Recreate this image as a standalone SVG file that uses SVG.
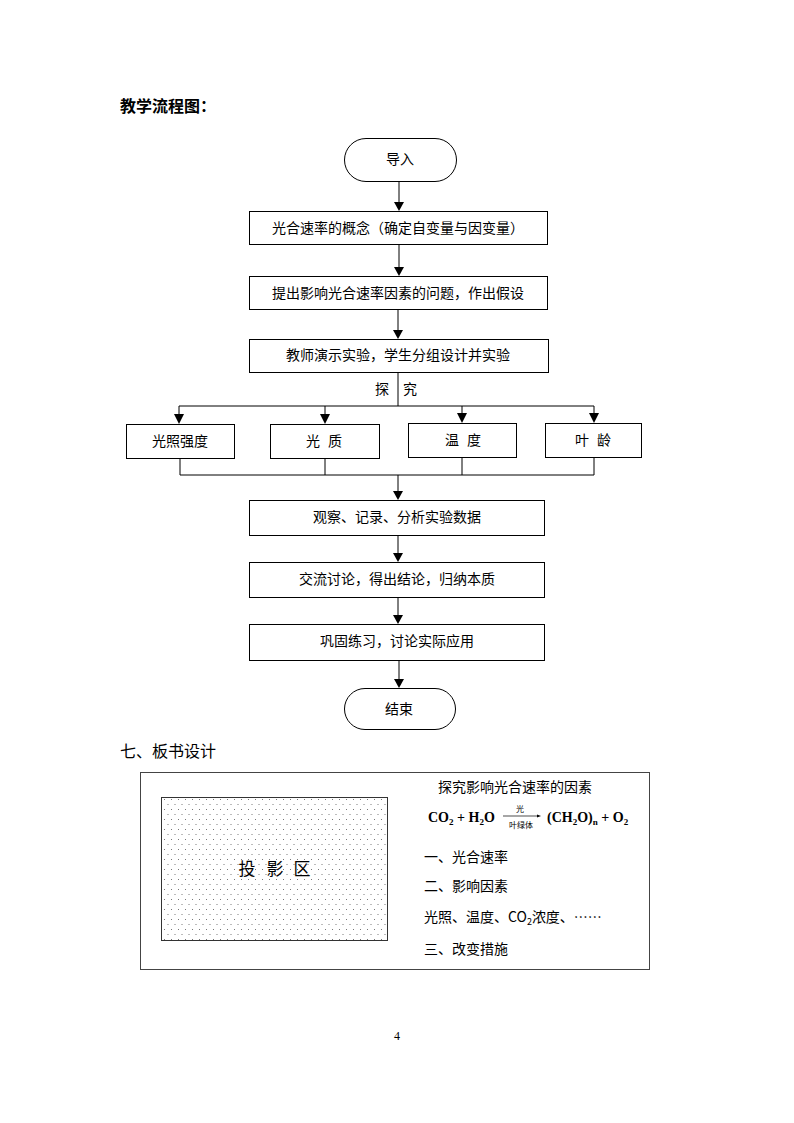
<svg xmlns="http://www.w3.org/2000/svg" width="794" height="1123" viewBox="0 0 794 1123">
<defs>
<style>
.t{font-family:"Noto Sans CJK SC","Liberation Sans",sans-serif;font-size:14px;fill:#000;}
.b{fill:#fff;stroke:#000;stroke-width:1;}
.c{fill:none;stroke:#000;stroke-width:1;}
.eq{font-family:"Liberation Serif","Times New Roman",serif;font-weight:bold;font-size:14px;fill:#000;}
</style>
<pattern id="dots" patternUnits="userSpaceOnUse" width="7" height="10" x="162" y="797">
<rect x="2" y="2" width="1" height="1" fill="#777"/>
<rect x="5.5" y="7" width="1" height="1" fill="#777"/>
</pattern>
</defs>
<rect width="794" height="1123" fill="#fff"/>
<text x="120" y="112" style="font-family:'Noto Sans CJK SC',sans-serif;font-size:16px;font-weight:bold;">教学流程图：</text>

<g id="connectors">
<line class="c" x1="399" y1="181" x2="399" y2="203"/>
<path d="M394,202 L404,202 L399,211 Z"/>
<line class="c" x1="399" y1="245" x2="399" y2="268"/>
<path d="M394,267 L404,267 L399,276 Z"/>
<line class="c" x1="398" y1="309" x2="398" y2="331"/>
<path d="M393,330 L403,330 L398,339 Z"/>
<line class="c" x1="398" y1="372" x2="398" y2="406"/>
<polyline class="c" points="179,415 179,406 594,406 594,415"/>
<line class="c" x1="325" y1="406" x2="325" y2="415"/>
<line class="c" x1="462" y1="406" x2="462" y2="415"/>
<path d="M174,414 L184,414 L179,424 Z"/>
<path d="M320,414 L330,414 L325,424 Z"/>
<path d="M457,413 L467,413 L462,423 Z"/>
<path d="M589,413 L599,413 L594,423 Z"/>
<polyline class="c" points="180,458 180,475 594,475 594,457"/>
<line class="c" x1="325" y1="458" x2="325" y2="475"/>
<line class="c" x1="462" y1="457" x2="462" y2="475"/>
<line class="c" x1="398" y1="475" x2="398" y2="492"/>
<path d="M393,491 L403,491 L398,500 Z"/>
<line class="c" x1="398" y1="535" x2="398" y2="554"/>
<path d="M393,553 L403,553 L398,562 Z"/>
<line class="c" x1="398" y1="597" x2="398" y2="616"/>
<path d="M393,615 L403,615 L398,624 Z"/>
<line class="c" x1="399" y1="660" x2="399" y2="680"/>
<path d="M394,679 L404,679 L399,688 Z"/>
</g>
<text class="t" x="375" y="394">探</text>
<text class="t" x="403" y="394">究</text>

<g id="start"><rect class="b" x="344.5" y="138.5" width="112" height="43" rx="21.5"/><text class="t" x="400" y="164" text-anchor="middle">导入</text></g>
<g id="n1"><rect class="b" x="249.5" y="211.5" width="298" height="33"/><text class="t" x="398" y="233" text-anchor="middle">光合速率的概念（确定自变量与因变量）</text></g>
<g id="n2"><rect class="b" x="249.5" y="276.5" width="298" height="33"/><text class="t" x="398" y="298" text-anchor="middle">提出影响光合速率因素的问题，作出假设</text></g>
<g id="n3"><rect class="b" x="249.5" y="339.5" width="299" height="33"/><text class="t" x="398" y="360" text-anchor="middle">教师演示实验，学生分组设计并实验</text></g>
<g id="f1"><rect class="b" x="126.5" y="424.5" width="108" height="34"/><text class="t" x="180" y="446" text-anchor="middle">光照强度</text></g>
<g id="f2"><rect class="b" x="270.5" y="424.5" width="109" height="34"/><text class="t" y="446" text-anchor="middle"><tspan x="313">光</tspan><tspan x="335">质</tspan></text></g>
<g id="f3"><rect class="b" x="408.5" y="423.5" width="108" height="34"/><text class="t" y="445" text-anchor="middle"><tspan x="452">温</tspan><tspan x="474">度</tspan></text></g>
<g id="f4"><rect class="b" x="545.5" y="423.5" width="96" height="34"/><text class="t" y="445" text-anchor="middle"><tspan x="582">叶</tspan><tspan x="604">龄</tspan></text></g>
<g id="n4"><rect class="b" x="249.5" y="500.5" width="295" height="35"/><text class="t" x="397" y="522" text-anchor="middle">观察、记录、分析实验数据</text></g>
<g id="n5"><rect class="b" x="249.5" y="562.5" width="295" height="35"/><text class="t" x="397" y="584" text-anchor="middle">交流讨论，得出结论，归纳本质</text></g>
<g id="n6"><rect class="b" x="249.5" y="624.5" width="295" height="36"/><text class="t" x="397" y="646" text-anchor="middle">巩固练习，讨论实际应用</text></g>
<g id="end"><rect class="b" x="344.5" y="688.5" width="111" height="41" rx="20.5"/><text class="t" x="399" y="714" text-anchor="middle">结束</text></g>

<text x="120" y="757" style="font-family:'Noto Sans CJK SC',sans-serif;font-size:16px;">七、板书设计</text>

<g id="board">
<rect x="140.5" y="772.5" width="509" height="197" fill="#fff" stroke="#444" stroke-width="1"/>
<rect x="161.5" y="797.5" width="226" height="143" fill="url(#dots)" stroke="#333" stroke-width="1"/>
<text y="875" text-anchor="middle" style="font-family:'Noto Sans CJK SC',sans-serif;font-size:17px;"><tspan x="247">投</tspan><tspan x="275">影</tspan><tspan x="302">区</tspan></text>
<text class="t" x="438" y="792">探究影响光合速率的因素</text>
<text class="eq" x="428" y="822">CO<tspan font-size="9" dy="3">2</tspan><tspan dy="-3"> + H</tspan><tspan font-size="9" dy="3">2</tspan><tspan dy="-3">O</tspan></text>
<line x1="503" y1="816" x2="538" y2="816" stroke="#000" stroke-width="0.7"/>
<path d="M537,814.5 L541,816 L537,817.5 Z" fill="#000"/>
<text x="520" y="812" text-anchor="middle" style="font-family:'Noto Sans CJK SC',sans-serif;font-size:8px;">光</text>
<text x="521" y="828" text-anchor="middle" style="font-family:'Noto Sans CJK SC',sans-serif;font-size:8px;">叶绿体</text>
<text class="eq" x="547" y="822">(CH<tspan font-size="9" dy="3">2</tspan><tspan dy="-3">O)</tspan><tspan font-size="9" dy="3">n</tspan><tspan dy="-3"> + O</tspan><tspan font-size="9" dy="3">2</tspan></text>
<text class="t" x="424" y="862">一、光合速率</text>
<text class="t" x="424" y="891">二、影响因素</text>
<text class="t" x="424" y="922">光照、温度、CO<tspan font-size="9" dy="3">2</tspan><tspan dy="-3">浓度、……</tspan></text>
<text class="t" x="424" y="954">三、改变措施</text>
</g>

<text x="397" y="1040" text-anchor="middle" style="font-family:'Liberation Serif',serif;font-size:12px;">4</text>
</svg>
